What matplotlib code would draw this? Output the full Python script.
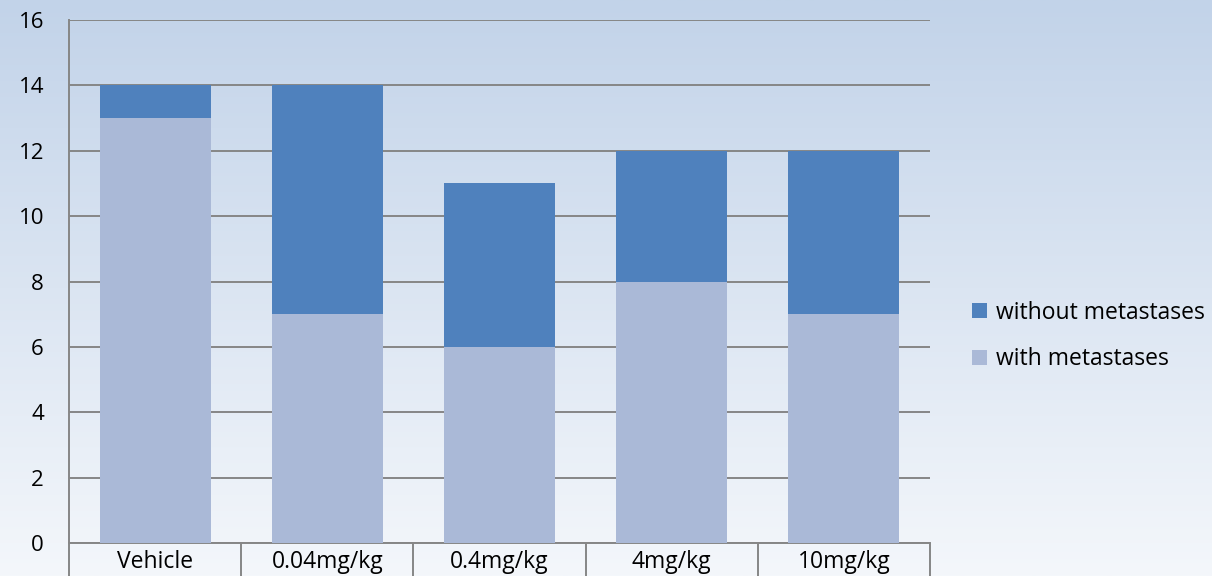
import numpy as np
import matplotlib
matplotlib.use('Agg')
import matplotlib.pyplot as plt

# data
groups = ['Vehicle', '0.04mg/kg', '0.4mg/kg', '4mg/kg', '10mg/kg']
with_meta = [13, 7, 6, 8, 7]
without_meta = [1, 7, 5, 4, 5]

c_with = '#AAB9D7'
c_without = '#4F81BD'
c_grid = '#868686'

plt.rcParams['font.family'] = ['Open Sans', 'DejaVu Sans']

fig = plt.figure(figsize=(12.12, 5.76), dpi=100)

# background gradient over the whole figure
bg = fig.add_axes([0, 0, 1, 1], zorder=-10)
top = np.array([194, 211, 233]) / 255.0
bot = np.array([244, 247, 251]) / 255.0
t = np.linspace(0, 1, 256)[:, None]
grad = top[None, :] * (1 - t) + bot[None, :] * t
bg.imshow(grad[:, None, :], aspect='auto', extent=[0, 1, 0, 1])
bg.axis('off')

ax = fig.add_axes([69 / 1212, 33 / 576, (930 - 69) / 1212, (543 - 20) / 576])
ax.set_facecolor('none')

x = np.arange(len(groups))
ax.bar(x, with_meta, width=0.645, color=c_with, zorder=3, label='with metastases')
ax.bar(x, without_meta, width=0.645, bottom=with_meta, color=c_without, zorder=3,
       label='without metastases')

ax.set_xlim(-0.5, len(groups) - 0.5)
ax.set_ylim(0, 16)
ax.set_yticks(range(0, 17, 2))
ax.yaxis.grid(True, color=c_grid, linewidth=1.4, zorder=1)
ax.set_axisbelow(True)

for s in ['top', 'right']:
    ax.spines[s].set_visible(False)
ax.spines['left'].set_color(c_grid)
ax.spines['left'].set_linewidth(1.4)
ax.spines['bottom'].set_color(c_grid)
ax.spines['bottom'].set_linewidth(1.4)

ax.tick_params(axis='y', length=0, pad=18, labelsize=16, labelcolor='black')
ax.set_xticks(x)
ax.set_xticklabels(groups)
ax.tick_params(axis='x', which='major', length=0, pad=5, labelsize=16.5)
# table-like category boxes
ax.set_xticks(np.arange(-0.5, len(groups), 1.0), minor=True)
ax.tick_params(axis='x', which='minor', length=30, width=1.4, color=c_grid, direction='out')

handles, labels = ax.get_legend_handles_labels()
fig.legend(handles[::-1], labels[::-1], loc='center left', bbox_to_anchor=(972 / 1212, 1 - 336 / 576),
           frameon=False, fontsize=16.5, handlelength=0.65, handleheight=0.65,
           handletextpad=0.4, labelspacing=1.0, borderaxespad=0, borderpad=0)

fig.savefig('out.png', dpi=100)
